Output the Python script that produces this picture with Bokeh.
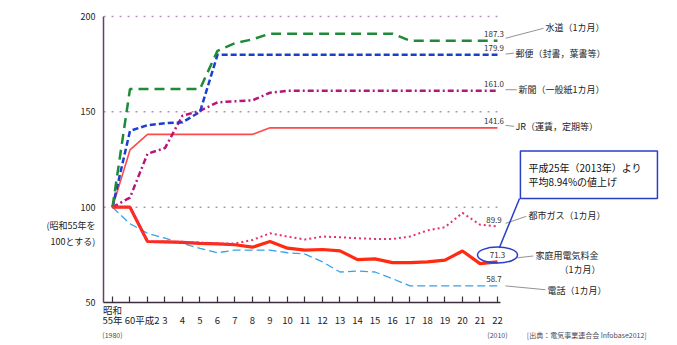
from bokeh.plotting import figure
from bokeh.models import Range1d, FixedTicker, LinearAxis
from bokeh.embed import file_html
from bokeh.resources import INLINE
from bokeh.core.properties import value

FONT = "Noto Sans CJK JP"

# ---- data (index 0 = 昭和55年/1980, 1 = 60年/1985, 2 = 平成2年 ... 22 = 平成22年/2010)
years = list(range(23))
tick_labels = ["昭和\n55年", "\n60", "\n平成2"] + ["\n" + str(i) for i in range(3, 23)]
era_labels = {0: "(1980)", 22: "(2010)"}
source_text = "[出典：電気事業連合会 Infobase2012]"
base_note = "(昭和55年を\n100とする)"

water = [100, 162, 162, 162, 162, 162, 182, 186, 188, 191, 191, 191, 191, 191, 191, 191, 191,
         187.3, 187.3, 187.3, 187.3, 187.3, 187.3]
postal = [100, 140, 143, 144, 144.5, 150] + [179.9] * 17
newspaper = [100, 105, 128, 131, 148, 150.5, 155, 155.5, 156, 160] + [161.0] * 13
jr = [100, 130] + [138.2] * 7 + [141.6] * 14
citygas = [100, 100, 82, 82, 81.8, 81.5, 81, 81, 82.8, 86.3, 84.6, 83, 84.6, 84.2, 83.7, 83.3,
           83.3, 84.6, 87.8, 89.5, 97, 90.8, 89.9]
electric = [100, 100, 82, 81.8, 81.5, 81, 80.7, 80.3, 79, 82, 78.5, 77.5, 77.8, 77.1, 72.5, 72.9,
            70.9, 70.9, 71.3, 72.2, 77, 70.4, 71.3]
phone = [100, 91.3, 86.3, 83.7, 81, 78.4, 76.1, 77.5, 77.5, 77.5, 76.1, 75.4, 71.3, 66, 66.5, 66,
         62.5, 58.7, 58.7, 58.7, 58.7, 58.7, 58.7]

y_ticks = [50, 100, 150, 200]
grid_levels = [100, 150, 200]

p = figure(width=677, height=345,
           x_range=Range1d(-0.514, 32.286), y_range=Range1d(50, 208.39),
           output_backend="svg", toolbar_location=None,
           min_border_left=103, min_border_right=0, min_border_top=0, min_border_bottom=43)
p.outline_line_color = None
p.xgrid.visible = False
p.ygrid.visible = False

# main x axis
xa = p.xaxis[0]
xa.axis_label = None
xa.ticker = FixedTicker(ticks=years)
xa.major_label_overrides = {i: t for i, t in zip(years, tick_labels)}
xa.bounds = (-0.514, 22.17)
xa.major_tick_in = 6
xa.major_tick_out = 0
xa.minor_tick_line_color = None
xa.axis_line_color = "#3b2f3f"
xa.axis_line_width = 1.5
xa.major_tick_line_color = "#3b2f3f"
xa.major_tick_line_width = 1.2
xa.major_label_standoff = 0
xa.major_label_text_font = FONT
xa.major_label_text_font_size = "9.5px"
xa.major_label_text_line_height = 0.72
xa.major_label_text_color = "#222222"

# secondary below axis: western years and source note
note_x = 27.1
ax2 = LinearAxis(ticker=FixedTicker(ticks=list(era_labels) + [note_x]),
                 major_label_overrides={**era_labels, note_x: source_text},
                 axis_label=None,
                 axis_line_color=None, major_tick_line_color=None, minor_tick_line_color=None,
                 major_tick_in=0, major_tick_out=0,
                 major_label_standoff=0, major_label_text_font=FONT,
                 major_label_text_font_size="7px", major_label_text_color="#4a4a5a")
p.add_layout(ax2, "below")

# y axis (with the base-year note as an extra label)
note_y = 86.3
ya = p.yaxis[0]
ya.axis_label = None
ya.ticker = FixedTicker(ticks=y_ticks + [note_y])
ya.major_label_overrides = {note_y: base_note}
ya.bounds = (50, 200)
ya.major_tick_in = 0
ya.major_tick_out = 0
ya.minor_tick_line_color = None
ya.axis_line_color = "#6b3f5e"
ya.axis_line_width = 1.5
ya.major_label_standoff = 8
ya.major_label_text_font = FONT
ya.major_label_text_font_size = "9px"
ya.major_label_text_color = "#222222"

# dotted reference lines
for g in grid_levels:
    p.segment(x0=-0.51, x1=22.0, y0=g, y1=g, line_color="#b890c0", line_dash="2 6", line_width=1.5)

# series
p.line(years, phone, line_color="#3aa0e8", line_width=1.3, line_dash="8 4")
p.line(years, jr, line_color="#ff4a4a", line_width=1.6)
p.line(years, newspaper, line_color="#b8157a", line_width=2.5, line_dash="6 3 2 3")
p.line(years, postal, line_color="#1a3fd0", line_width=2.5, line_dash="6 3")
p.line(years, water, line_color="#1f8a3a", line_width=2.5, line_dash="10 6")
p.line(years, electric, line_color="#ff2a10", line_width=3.2)
p.line(years, citygas, line_color="#e8306a", line_width=2, line_dash="2 3")

# value labels at line ends
ends = [water[-1], postal[-1], newspaper[-1], jr[-1], citygas[-1], phone[-1]]
p.text(x=[years[-1] - 0.2] * len(ends), y=[v + 3.5 for v in ends],
       text=[f"{v:.1f}" for v in ends], text_font=value(FONT), text_font_size="8px",
       text_color="#333333", text_align="center", text_baseline="middle")

# ellipse around electricity end value
p.ellipse(x=years[-1], y=electric[-1] + 3.6, width=40, height=16, width_units="screen",
          height_units="screen", fill_color=None, line_color="#2a3fc8", line_width=1.5)
p.text(x=[years[-1]], y=[electric[-1] + 3.6], text=[f"{electric[-1]:.1f}"], text_font=value(FONT),
       text_font_size="8px", text_color="#333333", text_align="center", text_baseline="middle")

# leader lines
p.segment(x0=[22.46, 22.46, 22.46, 22.46, 22.46, 23.1, 22.46],
          y0=[188.6, 180.3, 161.6, 142.9, 91.5, 73.4, phone[-1]],
          x1=[24.63, 22.95, 23.1, 22.95, 23.65, 24.05, 24.75],
          y1=[193.8, 180.8, 161.6, 142.4, 95.2, 74.4, 56.7],
          line_color="#777777", line_width=0.8)

# series name labels
names = ["水道（1カ月）", "郵便（封書，葉書等）", "新聞（一般紙1カ月）", "JR（運賃，定期等）",
         "都市ガス（1カ月）", "家庭用電気料金", "電話（1カ月）"]
name_x = [24.74, 23.03, 23.2, 23.03, 23.77, 24.17, 24.86]
name_y = [194.3, 180.8, 161.6, 142.4, 95.7, 74.4, 56.2]
p.text(x=name_x, y=name_y, text=names, text_font=value(FONT), text_font_size="9px",
       text_color="#222222", text_align="left", text_baseline="middle")
p.text(x=[27.89], y=[67.1], text=["（1カ月）"], text_font=value(FONT), text_font_size="9px",
       text_color="#222222", text_align="right", text_baseline="middle")

# callout
p.segment(x0=[23.26], y0=[104.5], x1=[22.1], y1=[78.6], line_color="#2a3fc8", line_width=1.5)
p.quad(left=[23.31], right=[31.14], top=[129.4], bottom=[104.5], fill_color="white",
       line_color="#2a3fc8", line_width=1.5)
p.text(x=[23.77, 23.77], y=[120.6, 113.3], text=["平成25年（2013年）より", "平均8.94%の値上げ"],
       text_font=value(FONT), text_font_size="10px", text_color="#111111",
       text_align="left", text_baseline="middle")

open("out.html", "w").write(file_html(p, INLINE))
